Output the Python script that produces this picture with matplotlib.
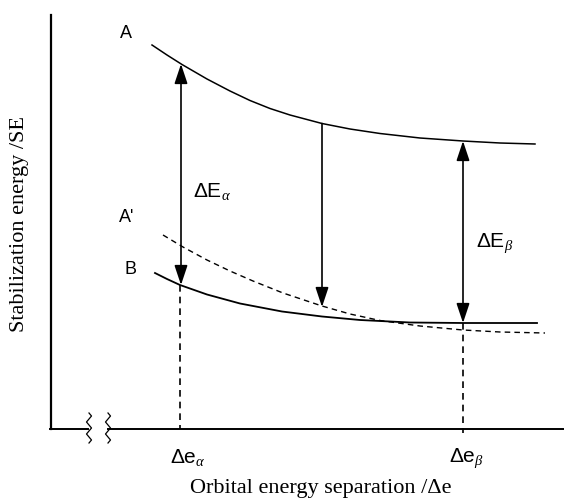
import numpy as np
import matplotlib.pyplot as plt

# schematic, in pixel-like units (y grows downward)
curve_a_x = [152, 167, 182, 207, 230, 250, 270, 290, 322, 350, 380, 420, 463, 500, 535]
curve_a_y = [45, 55, 64.5, 79, 91, 100.5, 108.5, 115, 123.5, 129, 133.5, 138, 141, 143, 144]

curve_b_x = [155, 167, 180, 207, 240, 282, 322, 360, 410, 463, 537]
curve_b_y = [273, 279, 285, 294.5, 303.5, 311.5, 316.5, 320, 322.5, 323, 323]

curve_a2_x = [163, 183, 207, 230, 253, 283, 322, 350, 380, 420, 463, 500, 545]
curve_a2_y = [235, 247, 260, 271, 281, 293, 306, 314, 320.5, 326, 330, 332, 333]

# arrows: x, top, bottom, style
arrows = [(181, 64, 285, "both"), (322, 123.5, 307, "down"), (463, 141, 323, "both")]
# dashed guides down to the axis
guides = [(180, 285, 429), (463, 323, 433)]

plt.rcParams["mathtext.fontset"] = "custom"
plt.rcParams["mathtext.rm"] = "Liberation Sans"
plt.rcParams["mathtext.it"] = "Liberation Serif:italic"

fig = plt.figure(figsize=(5.64, 4.99), dpi=100)
ax = fig.add_axes([0, 0, 1, 1])
ax.set_xlim(0, 564)
ax.set_ylim(499, 0)
ax.axis("off")

# axes
ax.plot([51, 51], [15, 429], color="black", lw=1.6)
ax.plot([50, 88], [429, 429], color="black", lw=1.4)
ax.plot([108, 564], [429, 429], color="black", lw=1.4)

# axis break marks
yy = np.linspace(413, 443, 11)
for bx in (89, 108):
    xx = bx + np.array([0, 2.5, 0, -2.5] * 3)[:11]
    ax.plot(xx, yy, color="black", lw=0.9)

ax.plot(curve_a_x, curve_a_y, color="black", lw=1.1)
ax.plot(curve_b_x, curve_b_y, color="black", lw=1.3)
ax.plot(curve_a2_x, curve_a2_y, color="black", lw=1.0, ls=(0, (4, 3)))

head = "head_length=1.2,head_width=0.4"
for x, top, bot, kind in arrows:
    if kind == "both":
        ax.annotate("", xy=(x, top), xytext=(x, bot),
                    arrowprops=dict(arrowstyle="<|-|>," + head,
                                    color="black", lw=1.2, shrinkA=0, shrinkB=0))
    else:
        ax.annotate("", xy=(x, bot), xytext=(x, top),
                    arrowprops=dict(arrowstyle="-|>," + head,
                                    color="black", lw=1.2, shrinkA=0, shrinkB=0))

for x, top, bot in guides:
    ax.plot([x, x], [top, bot], color="black", lw=1.2, ls=(0, (4, 3)))

sans = "Liberation Sans"
ax.text(126, 33, "A", fontsize=13, family=sans, ha="center", va="center")
ax.text(127, 217, "A'", fontsize=13, family=sans, ha="center", va="center")
ax.text(131, 270, "B", fontsize=13, family=sans, ha="center", va="center")
ax.text(193, 192, r"$\Delta\mathrm{E}_{\alpha}$", fontsize=15, ha="left", va="center")
ax.text(476, 243, r"$\Delta\mathrm{E}_{\beta}$", fontsize=15, ha="left", va="center")
ax.text(188, 458, r"$\Delta\mathrm{e}_{\alpha}$", fontsize=15, ha="center", va="center")
ax.text(466, 458, r"$\Delta\mathrm{e}_{\beta}$", fontsize=15, ha="center", va="center")

serif = "Liberation Serif"
ax.text(321, 488, "Orbital energy separation /Δe", fontsize=16, family=serif,
        ha="center", va="center")
ax.text(20, 224, "Stabilization energy /SE", fontsize=16, family=serif,
        ha="center", va="center", rotation=90)

fig.savefig("out.png", dpi=100)
